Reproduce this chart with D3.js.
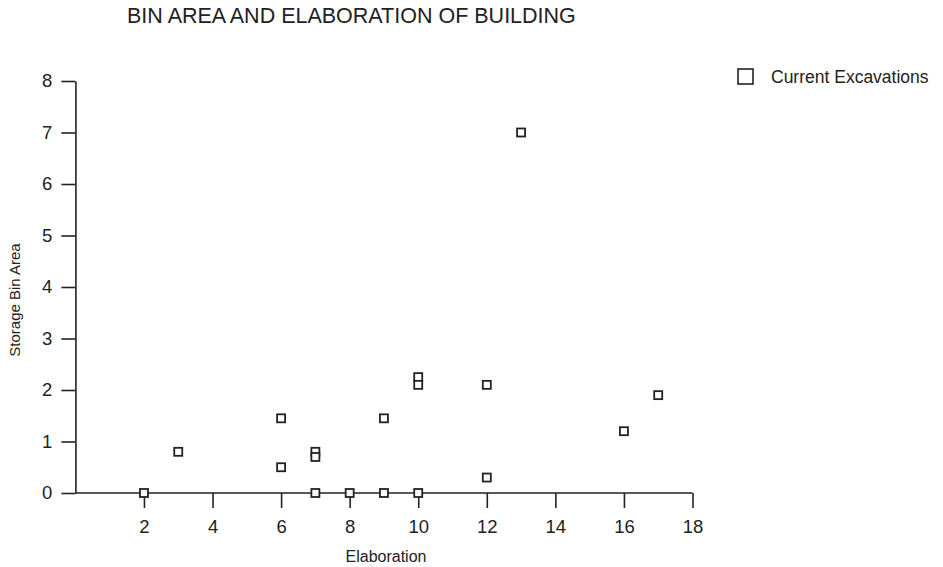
<!DOCTYPE html>
<html><head><meta charset="utf-8">
<script src="https://cdn.jsdelivr.net/npm/d3@7"></script>
<style>body{margin:0;background:#fff;} text{font-family:"Liberation Sans",Arial,sans-serif;fill:#222;}</style>
</head><body><svg id="c" width="943" height="567"></svg>
<script>
const elaboration = [2, 3, 6, 6, 7, 7, 7, 8, 9, 9, 10, 10, 10, 12, 12, 13, 16, 17];
const binArea     = [0, 0.8, 1.45, 0.5, 0.8, 0.7, 0, 0, 1.45, 0, 2.25, 2.1, 0, 2.1, 0.3, 7, 1.2, 1.9];
const xTicks = [2, 4, 6, 8, 10, 12, 14, 16, 18];
const yTicks = [0, 1, 2, 3, 4, 5, 6, 7, 8];
const seriesName = "Current Excavations";
const title = "BIN AREA AND ELABORATION OF BUILDING";

const svg = d3.select("#c");
const x = d3.scaleLinear().domain([0, 18]).range([75.4, 692.5]);
const y = d3.scaleLinear().domain([0, 8]).range([493, 81]);
const ink = "#222";

const gx = svg.append("g").attr("transform", `translate(0,${y(0)})`)
  .call(d3.axisBottom(x).tickValues(xTicks).tickSize(15).tickPadding(12).tickSizeOuter(0));
const gy = svg.append("g").attr("transform", `translate(${x(0)},0)`)
  .call(d3.axisLeft(y).tickValues(yTicks).tickSize(14).tickPadding(9).tickSizeOuter(0));
[gx, gy].forEach(g => {
  g.select(".domain").attr("stroke", ink).attr("stroke-width", 1.6);
  g.selectAll(".tick line").attr("stroke", ink).attr("stroke-width", 1.6);
  g.selectAll(".tick text").attr("font-size", 18.5).attr("font-family", '"Liberation Sans",Arial,sans-serif').attr("fill", ink);
});
gx.select(".domain").attr("d", `M${x(0)},0H${x(18)}`);

const pts = elaboration.map((e, i) => ({x: e, y: binArea[i]}));
svg.append("g").selectAll("rect").data(pts).join("rect")
  .attr("x", d => x(d.x) - 4).attr("y", d => y(d.y) - 4)
  .attr("width", 8).attr("height", 8)
  .attr("fill", "#fff").attr("stroke", ink).attr("stroke-width", 1.8);

svg.append("text").attr("x", 127).attr("y", 23).attr("font-size", 21.5).text(title);
svg.append("text").attr("x", 386).attr("y", 562).attr("text-anchor", "middle").attr("font-size", 16).text("Elaboration");
svg.append("text").attr("transform", "translate(20,300) rotate(-90)").attr("text-anchor", "middle").attr("font-size", 15).text("Storage Bin Area");

const lg = svg.append("g");
lg.append("rect").attr("x", 738).attr("y", 69).attr("width", 15).attr("height", 15)
  .attr("fill", "#fff").attr("stroke", ink).attr("stroke-width", 1.6);
lg.append("text").attr("x", 771).attr("y", 83).attr("font-size", 17.5).text(seriesName);
</script></body></html>
